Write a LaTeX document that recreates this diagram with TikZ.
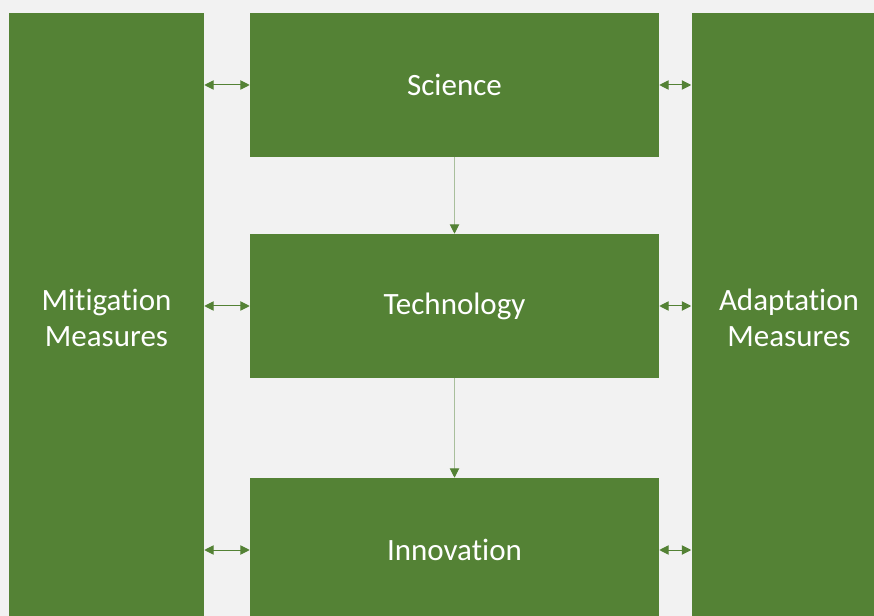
\documentclass[tikz,border=0pt]{standalone}
\usepackage{fontspec}
\setmainfont{Carlito}[Ligatures=NoCommon]
\usetikzlibrary{arrows.meta}
\definecolor{boxgreen}{HTML}{548235}
\definecolor{bggray}{HTML}{F2F2F2}
\definecolor{linegray}{HTML}{A9BF9C}
\tikzset{
  gbox/.style={fill=boxgreen, draw=none, text=white, align=center,
    font=\fontsize{23.25pt}{27pt}\selectfont, inner sep=0pt},
  midbox/.style={gbox, minimum width=306.75pt, minimum height=108pt},
  sidebox/.style={gbox, minimum width=146.25pt, minimum height=456.75pt},
  dbl/.style={draw=boxgreen, line width=0.75pt,
    {Triangle[length=7pt,width=7pt]}-{Triangle[length=7pt,width=7pt]}},
  down/.style={draw=linegray, line width=0.75pt,
    -{Triangle[length=7pt,width=7pt,color=boxgreen]}}
}
\begin{document}
\begin{tikzpicture}[x=0.75pt,y=-0.75pt]
\fill[bggray] (0,0) rectangle (874,616);
\useasboundingbox (0,0) rectangle (874,616);
\clip (0,0) rectangle (874,616);
\node[sidebox] (L) at (106.5,317.5) {Mitigation\\Measures};
\node[sidebox] (R) at (789,317.5) {Adaptation\\Measures};
\node[midbox] (S) at (454.5,85) {Science};
\node[midbox] (T) at (454.5,306) {Technology};
\node[midbox] (I) at (454.5,550) {Innovation};
\draw[dbl] (L.east |- S.west) -- (S.west);
\draw[dbl] (L.east |- T.west) -- (T.west);
\draw[dbl] (L.east |- I.west) -- (I.west);
\draw[dbl] (S.east) -- (R.west |- S.east);
\draw[dbl] (T.east) -- (R.west |- T.east);
\draw[dbl] (I.east) -- (R.west |- I.east);
\draw[down] (S.south) -- (T.north);
\draw[down] (T.south) -- (I.north);
\end{tikzpicture}
\end{document}
